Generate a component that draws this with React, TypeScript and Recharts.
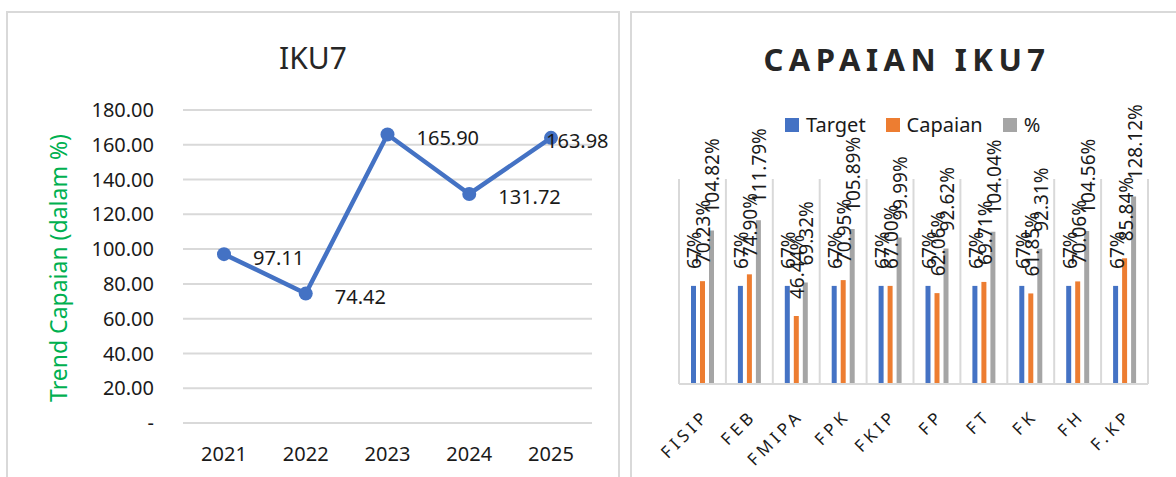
import React from 'react';
import { LineChart, Line, BarChart, Bar, XAxis, YAxis, CartesianGrid, LabelList } from 'recharts';

// IKU7 trend (left chart)
const years = ['2021', '2022', '2023', '2024', '2025'];
const trendValues = [97.11, 74.42, 165.9, 131.72, 163.98];
const trendTicks = [0, 20, 40, 60, 80, 100, 120, 140, 160, 180];

// Capaian IKU7 per fakultas (right chart)
const faculties = ['FISIP', 'FEB', 'FMIPA', 'FPK', 'FKIP', 'FP', 'FT', 'FK', 'FH', 'F.KP'];
const targetValues = [67, 67, 67, 67, 67, 67, 67, 67, 67, 67];
const capaianValues = [70.23, 74.9, 46.44, 70.95, 67.0, 62.06, 69.71, 61.85, 70.06, 85.84];
const persenValues = [104.82, 111.79, 69.32, 105.89, 99.99, 92.62, 104.04, 92.31, 104.56, 128.12];

const FONT = '"Noto Sans", sans-serif';
const BLUE = '#4472C4';
const ORANGE = '#ED7D31';
const GRAY = '#A5A5A5';
const GRID = '#d9d9d9';
const INK = '#1a1a1a';

const trendData = years.map((y, i) => ({ year: y, value: trendValues[i] }));

const facultyData = faculties.map((f, i) => ({
  name: f,
  target: targetValues[i],
  capaian: capaianValues[i],
  persen: persenValues[i],
}));

const legendItems = [
  { label: 'Target', color: BLUE },
  { label: 'Capaian', color: ORANGE },
  { label: '%', color: GRAY },
];

const fmtTick = (v: number) => (v === 0 ? '-' : v.toFixed(2));

const TrendLabel = (props: any) => {
  const { x, y, value, index } = props;
  // last point label would run off the plot, so Excel pulls it back over the marker
  const last = index === trendValues.length - 1;
  return (
    <text
      x={last ? x - 5 : x + 29}
      y={y + 3}
      dominantBaseline="central"
      fontSize={20}
      fontFamily={FONT}
      fill={INK}
    >
      {Number(value).toFixed(2)}
    </text>
  );
};

const barLabel = (fmt: (v: number) => string) => (props: any) => {
  const { x, y, width, value } = props;
  const cx = Number(x) + Number(width) / 2 + 1;
  const ty = Number(y) - 17;
  return (
    <text
      x={cx}
      y={ty}
      transform={`rotate(-90 ${cx} ${ty})`}
      textAnchor="start"
      dominantBaseline="central"
      fontSize={19}
      fontFamily={FONT}
      fill={INK}
    >
      {fmt(Number(value))}
    </text>
  );
};

const FacultyTick = (props: any) => {
  const { x, y, payload } = props;
  const tx = x + 8;
  const ty = y + 25;
  return (
    <text
      x={tx}
      y={ty}
      transform={`rotate(-45 ${tx} ${ty})`}
      textAnchor="end"
      fontSize={17}
      letterSpacing={4}
      fontFamily={FONT}
      fill={INK}
    >
      {payload.value}
    </text>
  );
};

const FacultyLegend = () => (
  <div
    style={{
      position: 'absolute',
      left: 785,
      top: 113,
      display: 'flex',
      alignItems: 'center',
      fontFamily: FONT,
      fontSize: 20,
      lineHeight: '24px',
      color: INK,
    }}
  >
    {legendItems.map((item) => (
      <div key={item.label} style={{ display: 'flex', alignItems: 'center', marginRight: 20 }}>
        <div style={{ width: 14, height: 14, background: item.color, marginRight: 7 }} />
        <span>{item.label}</span>
      </div>
    ))}
  </div>
);

export default function App() {
  return (
    <div
      style={{
        position: 'absolute',
        left: 0,
        top: 0,
        width: 1176,
        height: 477,
        overflow: 'hidden',
        background: '#fff',
        fontFamily: FONT,
      }}
    >
      {/* tail end of the document paragraph above the charts */}
      <div
        style={{
          position: 'absolute',
          left: 21,
          top: -36,
          fontFamily: '"Liberation Serif", serif',
          fontSize: 32,
          lineHeight: '32px',
          whiteSpace: 'nowrap',
          color: '#000',
        }}
      >
        Anggaran tahun ini capaian kinerja IKU pada tahun 2025 (IKU 7), yaitu capaian kinerja juga
      </div>

      {/* panels */}
      <div style={{ position: 'absolute', left: 6, top: 11, width: 614, height: 480, border: `2px solid ${GRID}`, boxSizing: 'border-box' }} />
      <div style={{ position: 'absolute', left: 630, top: 11, width: 600, height: 480, border: `2px solid ${GRID}`, boxSizing: 'border-box' }} />

      {/* left chart */}
      <div style={{ position: 'absolute', left: 213, top: 40, width: 200, textAlign: 'center', fontSize: 30, lineHeight: '36px', color: '#262626' }}>
        IKU7
      </div>
      <div
        style={{
          position: 'absolute',
          left: 58,
          top: 268,
          transform: 'translate(-50%, -50%) rotate(-90deg)',
          whiteSpace: 'nowrap',
          fontSize: 23,
          color: '#00B050',
        }}
      >
        Trend Capaian (dalam %)
      </div>
      <div style={{ position: 'absolute', left: 7, top: 11 }}>
        <LineChart width={612} height={470} data={trendData} margin={{ top: 99, right: 27, left: 0, bottom: 8 }}>
          <CartesianGrid vertical={false} stroke={GRID} strokeWidth={2} />
          <XAxis
            dataKey="year"
            axisLine={false}
            tickLine={false}
            height={50}
            tickMargin={18}
            padding={{ left: 41, right: 41 }}
            tick={{ fontSize: 20, fill: INK, fontFamily: FONT }}
          />
          <YAxis
            domain={[0, 180]}
            ticks={trendTicks}
            width={176}
            axisLine={false}
            tickLine={false}
            tickMargin={23}
            tickFormatter={fmtTick}
            tick={{ fontSize: 20, fill: INK, fontFamily: FONT }}
          />
          <Line
            type="linear"
            dataKey="value"
            stroke={BLUE}
            strokeWidth={4.5}
            dot={{ r: 7, fill: BLUE, stroke: BLUE, strokeWidth: 0 }}
            isAnimationActive={false}
          >
            <LabelList dataKey="value" content={TrendLabel} />
          </Line>
        </LineChart>
      </div>

      {/* right chart */}
      <div
        style={{
          position: 'absolute',
          left: 757,
          top: 40,
          width: 300,
          textAlign: 'center',
          fontSize: 31,
          lineHeight: '38px',
          fontWeight: 700,
          letterSpacing: 5.5,
          color: '#262626',
        }}
      >
        CAPAIAN IKU7
      </div>
      <FacultyLegend />
      <div style={{ position: 'absolute', left: 631, top: 11 }}>
        <BarChart
          width={545}
          height={470}
          data={facultyData}
          margin={{ top: 168, right: 28, left: 48, bottom: 17 }}
          barSize={5}
          barGap={4}
        >
          <CartesianGrid
            horizontal={false}
            stroke={GRID}
            strokeWidth={2}
            verticalCoordinatesGenerator={({ offset }: any) => {
              const step = offset.width / faculties.length;
              return [...faculties.map((_, i) => offset.left + i * step), offset.left + offset.width];
            }}
          />
          <XAxis
            dataKey="name"
            height={80}
            axisLine={{ stroke: GRID, strokeWidth: 2 }}
            tickLine={false}
            interval={0}
            tick={<FacultyTick />}
          />
          <YAxis hide domain={[0, 140]} />
          <Bar dataKey="target" fill={BLUE} isAnimationActive={false}>
            <LabelList dataKey="target" content={barLabel((v) => `${v}%`)} />
          </Bar>
          <Bar dataKey="capaian" fill={ORANGE} isAnimationActive={false}>
            <LabelList dataKey="capaian" content={barLabel((v) => `${v.toFixed(2)}%`)} />
          </Bar>
          <Bar dataKey="persen" fill={GRAY} isAnimationActive={false}>
            <LabelList dataKey="persen" content={barLabel((v) => `${v.toFixed(2)}%`)} />
          </Bar>
        </BarChart>
      </div>
    </div>
  );
}
